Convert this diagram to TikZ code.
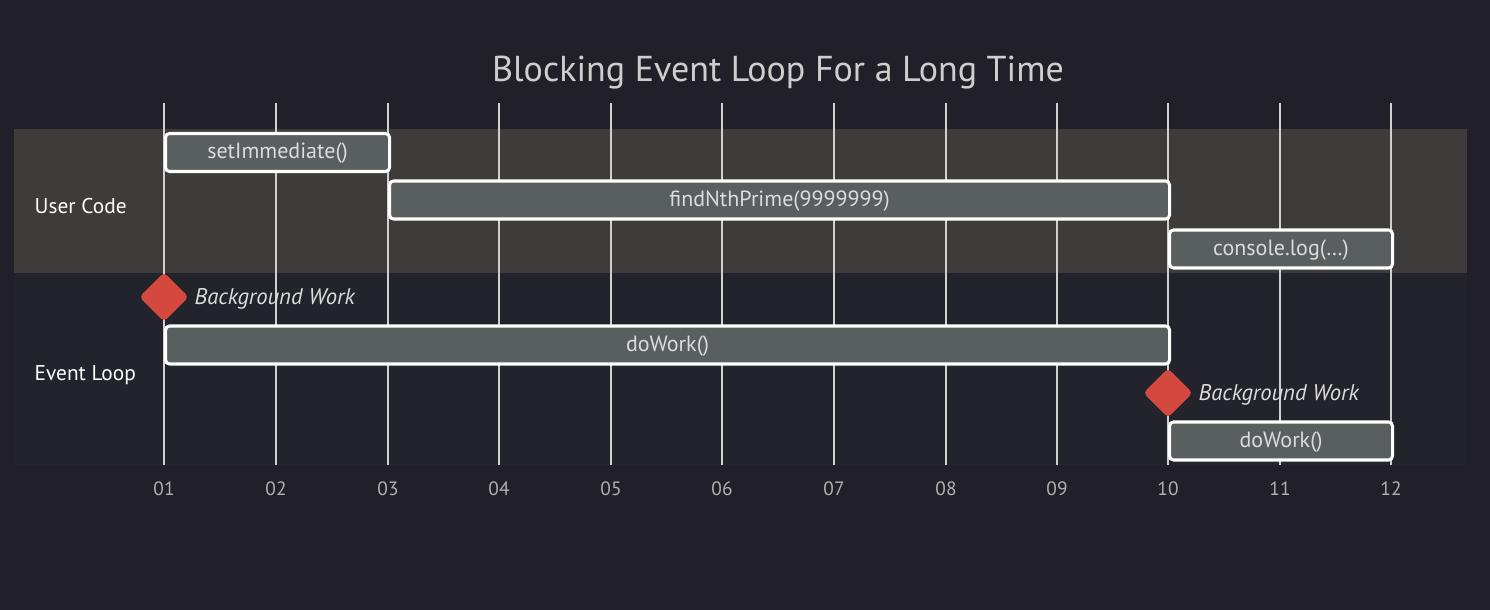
\documentclass[tikz,border=0pt]{standalone}
\usepackage{fontspec}
\setmainfont{PT Sans}
\usetikzlibrary{shapes.geometric}
\definecolor{bgc}{HTML}{212029}
\definecolor{usr}{HTML}{3E3C3A}
\definecolor{evl}{HTML}{23232B}
\definecolor{barc}{HTML}{595E5E}
\definecolor{gridc}{HTML}{D0D0D0}
\definecolor{dia}{HTML}{D5483D}
\definecolor{txt}{HTML}{DCDCDC}
\definecolor{tick}{HTML}{B0B0B0}
\tikzset{
  taskbar/.style={draw=white, line width=2.3pt, rounded corners=3pt, fill=barc,
    text=txt, font=\fontsize{16.5}{18}\selectfont, inner sep=0pt, anchor=west,
    minimum height=28.5pt, text height=1em, text depth=0.08em},
  milestone/.style={diamond, fill=dia, rounded corners=3pt, inner sep=0pt, minimum size=37pt},
  mlabel/.style={anchor=west, text=txt, font=\fontsize{17}{19}\selectfont\itshape, yshift=-1.5pt},
  seclabel/.style={anchor=west, text=white, font=\fontsize{16}{18}\selectfont},
  ticklabel/.style={text=tick, font=\fontsize{14.5}{16}\selectfont},
  gridline/.style={draw=gridc, line width=1pt},
}
\begin{document}
\begin{tikzpicture}[x=0.75pt,y=-0.75pt]
\fill[bgc] (0,0) rectangle (1490,610);
\useasboundingbox (0,0) rectangle (1490,610);
\fill[usr] (14,129) rectangle (1467,273);
\fill[evl] (14,273) rectangle (1467,465);
\node[text=txt!85!gray, font=\fontsize{27}{30}\selectfont] (title) at (778,73) {Blocking Event Loop For a Long Time};
\foreach \i/\x in {01/164,02/276,03/388,04/499,05/611,06/722,07/834,08/946,09/1057,10/1168,11/1280,12/1391}{
  \coordinate (gt\i) at (\x,103);
  \coordinate (gb\i) at (\x,465);
  \draw[gridline] (gt\i) -- (gb\i);
  \node[ticklabel] (tk\i) at (\x,489) {\i};
}
\node[seclabel] (uc) at (30,206) {User Code};
\node[seclabel] (el) at (30,375) {Event Loop};
\node[taskbar, minimum width={224*0.75pt}] (t1) at (164,152.5) {setImmediate()};
\node[taskbar, minimum width={780*0.75pt}] (t2) at (388,200) {findNthPrime(9999999)};
\node[taskbar, minimum width={223*0.75pt}] (t3) at (1168,249) {console.log(\ldots)};
\node[taskbar, minimum width={1004*0.75pt}] (t4) at (164,345) {doWork()};
\node[taskbar, minimum width={223*0.75pt}] (t5) at (1168,441) {doWork()};
\node[milestone] (m1) at (164,297) {};
\node[mlabel] (m1l) at (190,297) {Background Work};
\node[milestone] (m2) at (1168,393) {};
\node[mlabel] (m2l) at (1194,393) {Background Work};
\end{tikzpicture}
\end{document}
